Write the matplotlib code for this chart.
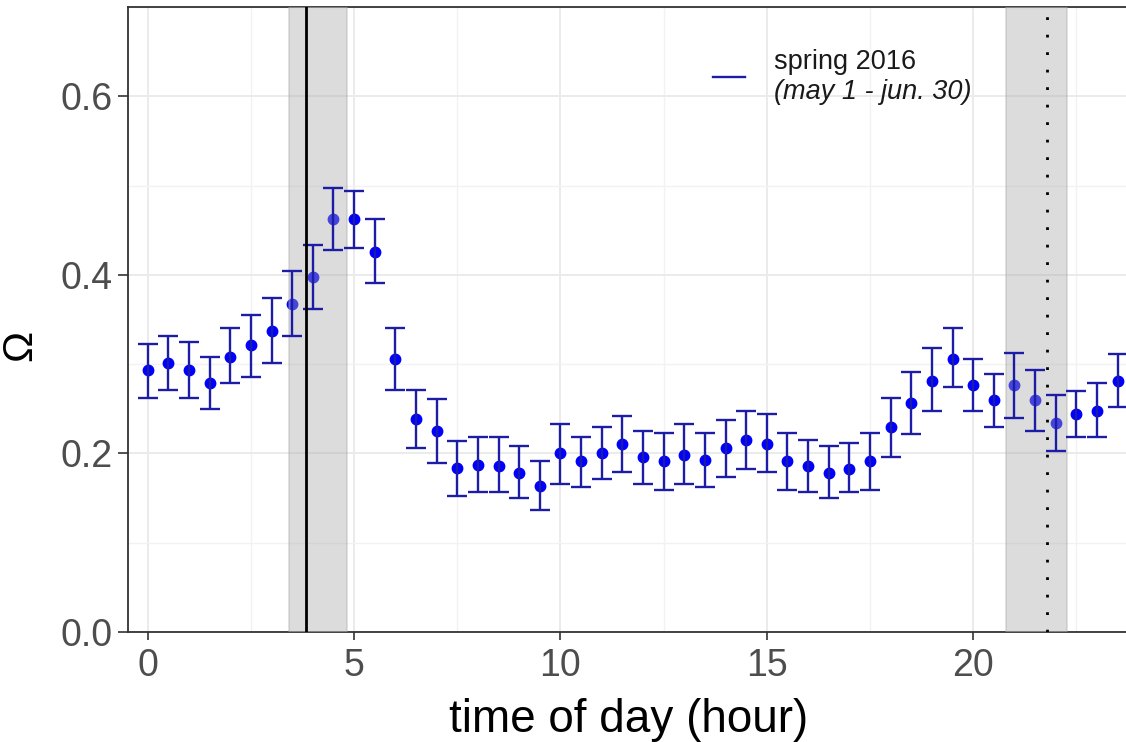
import numpy as np
import matplotlib
matplotlib.use("Agg")
import matplotlib.pyplot as plt
from matplotlib.ticker import MultipleLocator

plt.rcParams['font.family'] = ['Liberation Sans', 'DejaVu Sans']

# hourly means of Omega with error bars (spring 2016)
hour = np.arange(0, 24, 0.5)
omega = [0.293, 0.301, 0.293, 0.279, 0.308, 0.321, 0.337, 0.367, 0.398, 0.462,
         0.462, 0.426, 0.306, 0.239, 0.225, 0.184, 0.187, 0.186, 0.178, 0.164,
         0.201, 0.191, 0.201, 0.211, 0.196, 0.191, 0.198, 0.193, 0.206, 0.215,
         0.211, 0.191, 0.186, 0.178, 0.183, 0.191, 0.230, 0.257, 0.281, 0.306,
         0.277, 0.260, 0.277, 0.260, 0.234, 0.244, 0.247, 0.281]
upper = [0.323, 0.331, 0.325, 0.308, 0.340, 0.355, 0.374, 0.404, 0.433, 0.497,
         0.494, 0.462, 0.340, 0.271, 0.261, 0.214, 0.218, 0.218, 0.208, 0.191,
         0.233, 0.218, 0.230, 0.242, 0.225, 0.223, 0.233, 0.223, 0.237, 0.247,
         0.244, 0.223, 0.215, 0.208, 0.212, 0.223, 0.262, 0.291, 0.318, 0.340,
         0.306, 0.289, 0.313, 0.293, 0.266, 0.270, 0.279, 0.311]
lower = [0.262, 0.271, 0.262, 0.250, 0.279, 0.286, 0.301, 0.331, 0.362, 0.428,
         0.430, 0.391, 0.271, 0.206, 0.189, 0.152, 0.157, 0.157, 0.150, 0.137,
         0.166, 0.162, 0.171, 0.179, 0.166, 0.159, 0.166, 0.162, 0.174, 0.183,
         0.179, 0.159, 0.157, 0.150, 0.157, 0.159, 0.196, 0.222, 0.247, 0.274,
         0.247, 0.230, 0.240, 0.225, 0.203, 0.218, 0.218, 0.252]

# sunrise / sunset ranges and mean times
sunrise_range = (3.43, 4.835)
sunset_range = (20.79, 22.28)
sunrise_mean = 3.83
sunset_mean = 21.78

omega = np.array(omega)
yerr = [omega - np.array(lower), np.array(upper) - omega]

fig = plt.figure(figsize=(11.26, 7.42), dpi=100)
ax = fig.add_axes([128 / 1126, 110 / 742, 1002 / 1126, 625 / 742])

ax.plot(hour, omega, 'o', color='#0000FF', markersize=7.5, zorder=3)

for lo, hi in (sunrise_range, sunset_range):
    ax.axvspan(lo, hi, facecolor=(170 / 255, 170 / 255, 170 / 255), alpha=0.41,
               edgecolor='#A8A8A8', linewidth=1.2, zorder=4)

ax.errorbar(hour, omega, yerr=yerr, fmt='none', ecolor='#1C1CA6', elinewidth=1.7,
            capsize=7, capthick=1.7, zorder=5)

ax.axvline(sunrise_mean, color='black', linewidth=2.0, zorder=6)
ax.axvline(sunset_mean, color='black', linewidth=2.0, linestyle=(0, (1, 5.3)), zorder=6)

ax.set_xlim(-0.477, 23.80)
ax.set_ylim(0, 0.70)
ax.xaxis.set_major_locator(MultipleLocator(5))
ax.xaxis.set_minor_locator(MultipleLocator(2.5))
ax.yaxis.set_major_locator(MultipleLocator(0.2))
ax.yaxis.set_minor_locator(MultipleLocator(0.1))
ax.yaxis.set_major_formatter(matplotlib.ticker.FormatStrFormatter('%.1f'))

ax.grid(which='major', color='#EBEBEB', linewidth=1.4, zorder=0)
ax.grid(which='minor', color='#F2F2F2', linewidth=1.0, zorder=0)
ax.set_axisbelow(True)
ax.tick_params(which='minor', length=0)
ax.tick_params(which='major', width=1.2, color='#333333',
               labelsize=27, labelcolor='#4D4D4D')
ax.tick_params(axis='y', which='major', length=7, pad=4)
ax.tick_params(axis='x', which='major', length=5.5, pad=6)

for side in ('left', 'bottom', 'top'):
    ax.spines[side].set_color('#333333')
    ax.spines[side].set_linewidth(1.3)
ax.spines['right'].set_visible(False)

ax.set_xlabel('time of day (hour)', fontsize=33, color='black', labelpad=10)
ax.set_ylabel('Ω', fontsize=30, color='black')
ax.yaxis.set_label_coords(-0.088, 0.459)

# legend drawn as a line sample with two-line text
ax.plot([0.584, 0.616], [0.888, 0.888], transform=ax.transAxes, color='#1C1CA6',
        linewidth=1.7, clip_on=False)
ax.text(0.645, 0.912, 'spring 2016', transform=ax.transAxes, fontsize=19.5,
        va='center', ha='left', color='#1A1A1A')
ax.text(0.645, 0.864, '(may 1 - jun. 30)', transform=ax.transAxes, fontsize=19.5,
        va='center', ha='left', style='italic', color='#1A1A1A')

fig.savefig('out.png', dpi=100)
